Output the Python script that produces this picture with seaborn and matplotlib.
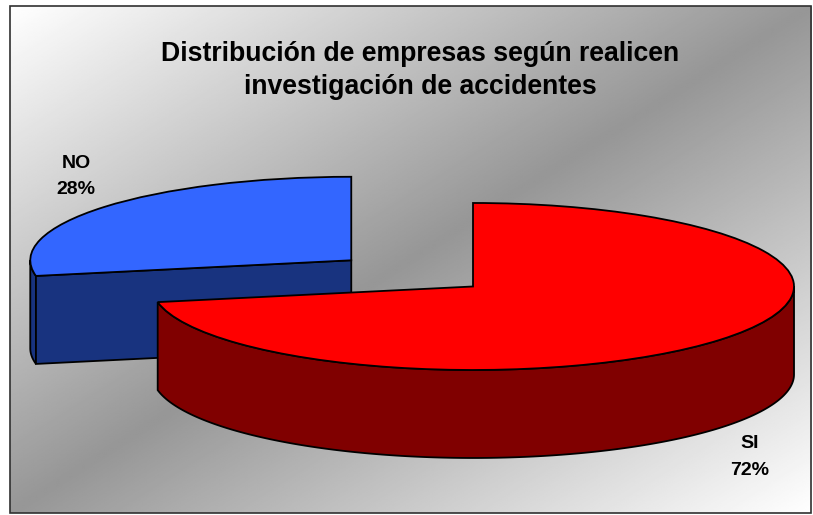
import matplotlib
matplotlib.use("Agg")
import matplotlib.pyplot as plt
import seaborn as sns
import numpy as np
from matplotlib.patches import Polygon, Rectangle

labels = ["NO", "SI"]
values = [28, 72]
top_colors = ["#3366FF", "#FF0000"]
side_colors = ["#18337F", "#800000"]
title = "Distribución de empresas según realicen\ninvestigación de accidentes"

W, H = 813, 515
radius = 321
squash = 83.5 / 321   # tilt of the pie, y is shrunk by this
depth = 88 / squash
explode = [78.5, 79.5]

sns.set_theme(style="white")
plt.rcParams["font.family"] = ["Liberation Sans", "DejaVu Sans"]


def py(y):
    # pixel row of the picture -> data y
    return (H - y) / squash


fig, ax = plt.subplots(figsize=(W / 100, H / 100), dpi=100)
fig.subplots_adjust(0, 0, 1, 1)

wedges, _ = ax.pie(values, startangle=90, radius=radius, center=(411.75, py(273.3)),
                   explode=explode, colors=sns.color_palette(top_colors),
                   wedgeprops=dict(edgecolor="black", linewidth=1.3))
ax.set_aspect("auto")
ax.axis("off")

# background: diagonal white - gray - white
left, right, top, bottom = 10, 811, 6, 513
gx, gy = np.meshgrid(np.linspace(0, 1, 400), np.linspace(0, 1, 400))
shade = 0.59 + 0.41 * np.abs(gx + gy - 1)
ax.imshow(shade, cmap="gray", vmin=0, vmax=1, aspect="auto", zorder=0,
          extent=(left, right, py(bottom), py(top)), interpolation="bilinear")
ax.set_xlim(0, W)
ax.set_ylim(0, H / squash)
ax.add_patch(Rectangle((left, py(bottom)), right - left, py(top) - py(bottom), fill=False,
                       edgecolor="#303030", linewidth=1.2, zorder=0.5))

# extruded sides, drawn from the angles of each slice
for i, w in enumerate(wedges):
    cx, cy = w.center
    base = 2 + i * 2
    w.set_zorder(base + 1)
    t1, t2 = w.theta1, w.theta2
    side = dict(facecolor=side_colors[i], edgecolor="black", linewidth=1.3, zorder=base)

    # rim: the part of the arc that faces the viewer
    for turn in (0, 360):
        a = max(t1, 180 + turn)
        b = min(t2, 360 + turn)
        if b > a:
            th = np.radians(np.linspace(a, b, 200))
            rx = cx + radius * np.cos(th)
            ry = cy + radius * np.sin(th)
            pts = np.r_[np.c_[rx, ry], np.c_[rx[::-1], ry[::-1] - depth]]
            ax.add_patch(Polygon(pts, closed=True, **side))

    # cut face, only when it turns to the viewer
    if np.sin(np.radians(t2 + 90)) < -0.01:
        ex = cx + radius * np.cos(np.radians(t2))
        ey = cy + radius * np.sin(np.radians(t2))
        pts = [(cx, cy), (ex, ey), (ex, ey - depth), (cx, cy - depth)]
        ax.add_patch(Polygon(pts, closed=True, **side))

ax.text(420, py(70.5), title, ha="center", va="center", fontsize=19.2, fontweight="bold",
        color="black", linespacing=1.38, zorder=10)

ax.text(76, py(176.5), f"{labels[0]}\n{values[0]}%", ha="center", va="center", fontsize=14,
        fontweight="bold", color="black", linespacing=1.7, zorder=10)
ax.text(750, py(457), f"{labels[1]}\n{values[1]}%", ha="center", va="center", fontsize=14,
        fontweight="bold", color="black", linespacing=1.7, zorder=10)

fig.savefig("out.png", dpi=100)
